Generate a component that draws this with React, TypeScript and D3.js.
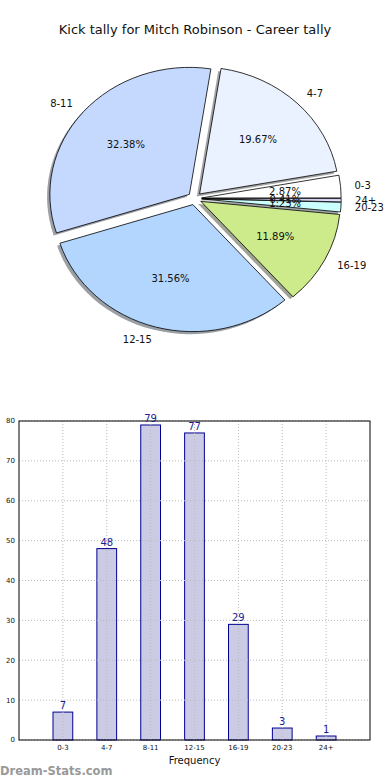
import React from "react";
import * as d3 from "d3";

const categories = ["0-3", "4-7", "8-11", "12-15", "16-19", "20-23", "24+"];
const kicks = [7, 48, 79, 77, 29, 3, 1];
const pieColors = ["#ffffff", "#ebf2ff", "#c5d9ff", "#b3d6ff", "#cdeb8b", "#ccffff", "#e0e0ff"];
const yTicks = [0, 10, 20, 30, 40, 50, 60, 70, 80];

const W = 390;
const H = 780;
const FONT = "DejaVu Sans, sans-serif";

// pie geometry (matplotlib style, not axis-equal so it is an ellipse)
const cx = 194.7;
const cy = 198.5;
const rx = 139.5;
const ry = 127;
const explode = 0.05;

// bar axes box
const bx0 = 19;
const bx1 = 370;
const by0 = 421;
const by1 = 740;

const App = () => {
  const total = d3.sum(kicks);
  // start at east, counterclockwise like matplotlib
  const pie = d3
    .pie<number>()
    .sort(null)
    .startAngle(Math.PI / 2)
    .endAngle(Math.PI / 2 - 2 * Math.PI);
  const arcs = pie(kicks);
  const arc = d3.arc<d3.PieArcDatum<number>>().innerRadius(0).outerRadius(1);

  const mid = (a: d3.PieArcDatum<number>) => (a.startAngle + a.endAngle) / 2;
  const off = (a: d3.PieArcDatum<number>) => {
    const m = mid(a);
    return [cx + explode * rx * Math.sin(m), cy - explode * ry * Math.cos(m)];
  };

  const x = d3.scaleLinear().domain([-1, 7]).range([bx0, bx1]);
  const y = d3.scaleLinear().domain([0, 80]).range([by1, by0]);
  const barW = x(0.45) - x(0);

  return (
    <svg
      width={W}
      height={H}
      style={{ position: "absolute", left: 0, top: 0, background: "#fff" }}
      fontFamily={FONT}
    >
      <text x={195} y={34} textAnchor="middle" fontSize={13} fill="#111">
        Kick tally for Mitch Robinson - Career tally
      </text>

      {/* shadows */}
      {arcs.map((a, i) => {
        const [ox, oy] = off(a);
        const c = d3.rgb(pieColors[i]);
        const sc = d3.rgb(c.r * 0.3, c.g * 0.3, c.b * 0.3);
        return (
          <path
            key={"s" + i}
            d={arc(a) || ""}
            transform={`translate(${ox - 0.02 * rx},${oy + 0.02 * ry}) scale(${rx},${ry})`}
            fill={sc.toString()}
            opacity={0.5}
          />
        );
      })}

      {arcs.map((a, i) => {
        const [ox, oy] = off(a);
        return (
          <path
            key={"w" + i}
            d={arc(a) || ""}
            transform={`translate(${ox},${oy}) scale(${rx},${ry})`}
            fill={pieColors[i]}
            stroke="#000"
            strokeWidth={0.8}
            vectorEffect="non-scaling-stroke"
          />
        );
      })}

      {arcs.map((a, i) => {
        const [ox, oy] = off(a);
        const m = mid(a);
        const lx = ox + 1.1 * rx * Math.sin(m);
        const ly = oy - 1.1 * ry * Math.cos(m);
        const px = ox + 0.6 * rx * Math.sin(m);
        const py = oy - 0.6 * ry * Math.cos(m);
        return (
          <g key={"l" + i} fontSize={10} fill="#111">
            <text x={lx} y={ly} dy="0.35em" textAnchor={Math.sin(m) > 0 ? "start" : "end"}>
              {categories[i]}
            </text>
            <text x={px} y={py} dy="0.35em" textAnchor="middle">
              {((100 * kicks[i]) / total).toFixed(2) + "%"}
            </text>
          </g>
        );
      })}

      {/* bar chart */}
      {kicks.map((v, i) => (
        <rect
          key={"b" + i}
          x={x(i) - barW / 2}
          y={y(v)}
          width={barW}
          height={y(0) - y(v)}
          fill="#cbcbe6"
          stroke="#000090"
          strokeWidth={1}
        />
      ))}

      {yTicks.map((t) => (
        <line key={"gy" + t} x1={bx0} x2={bx1} y1={y(t)} y2={y(t)} stroke="#bbb" strokeDasharray="1,2" />
      ))}
      {categories.map((c, i) => (
        <line key={"gx" + c} x1={x(i)} x2={x(i)} y1={by0} y2={by1} stroke="#bbb" strokeDasharray="1,2" />
      ))}

      <rect x={bx0} y={by0} width={bx1 - bx0} height={by1 - by0} fill="none" stroke="#000" strokeWidth={1} />

      {kicks.map((v, i) => (
        <text key={"v" + i} x={x(i)} y={y(v) - 3} textAnchor="middle" fontSize={10} fill="#1c1c96">
          {v}
        </text>
      ))}

      {yTicks.map((t) => (
        <text key={"ty" + t} x={bx0 - 4} y={y(t)} dy="0.35em" textAnchor="end" fontSize={7} fill="#111">
          {t}
        </text>
      ))}
      {categories.map((c, i) => (
        <text key={"tx" + c} x={x(i)} y={by1 + 10} textAnchor="middle" fontSize={7} fill="#111">
          {c}
        </text>
      ))}
      <text x={(bx0 + bx1) / 2} y={764} textAnchor="middle" fontSize={10} fill="#111">
        Frequency
      </text>

      <text x={0} y={775} fontSize={11.5} fontWeight="bold" fill="#999">
        Dream-Stats.com
      </text>
    </svg>
  );
};

export default App;
